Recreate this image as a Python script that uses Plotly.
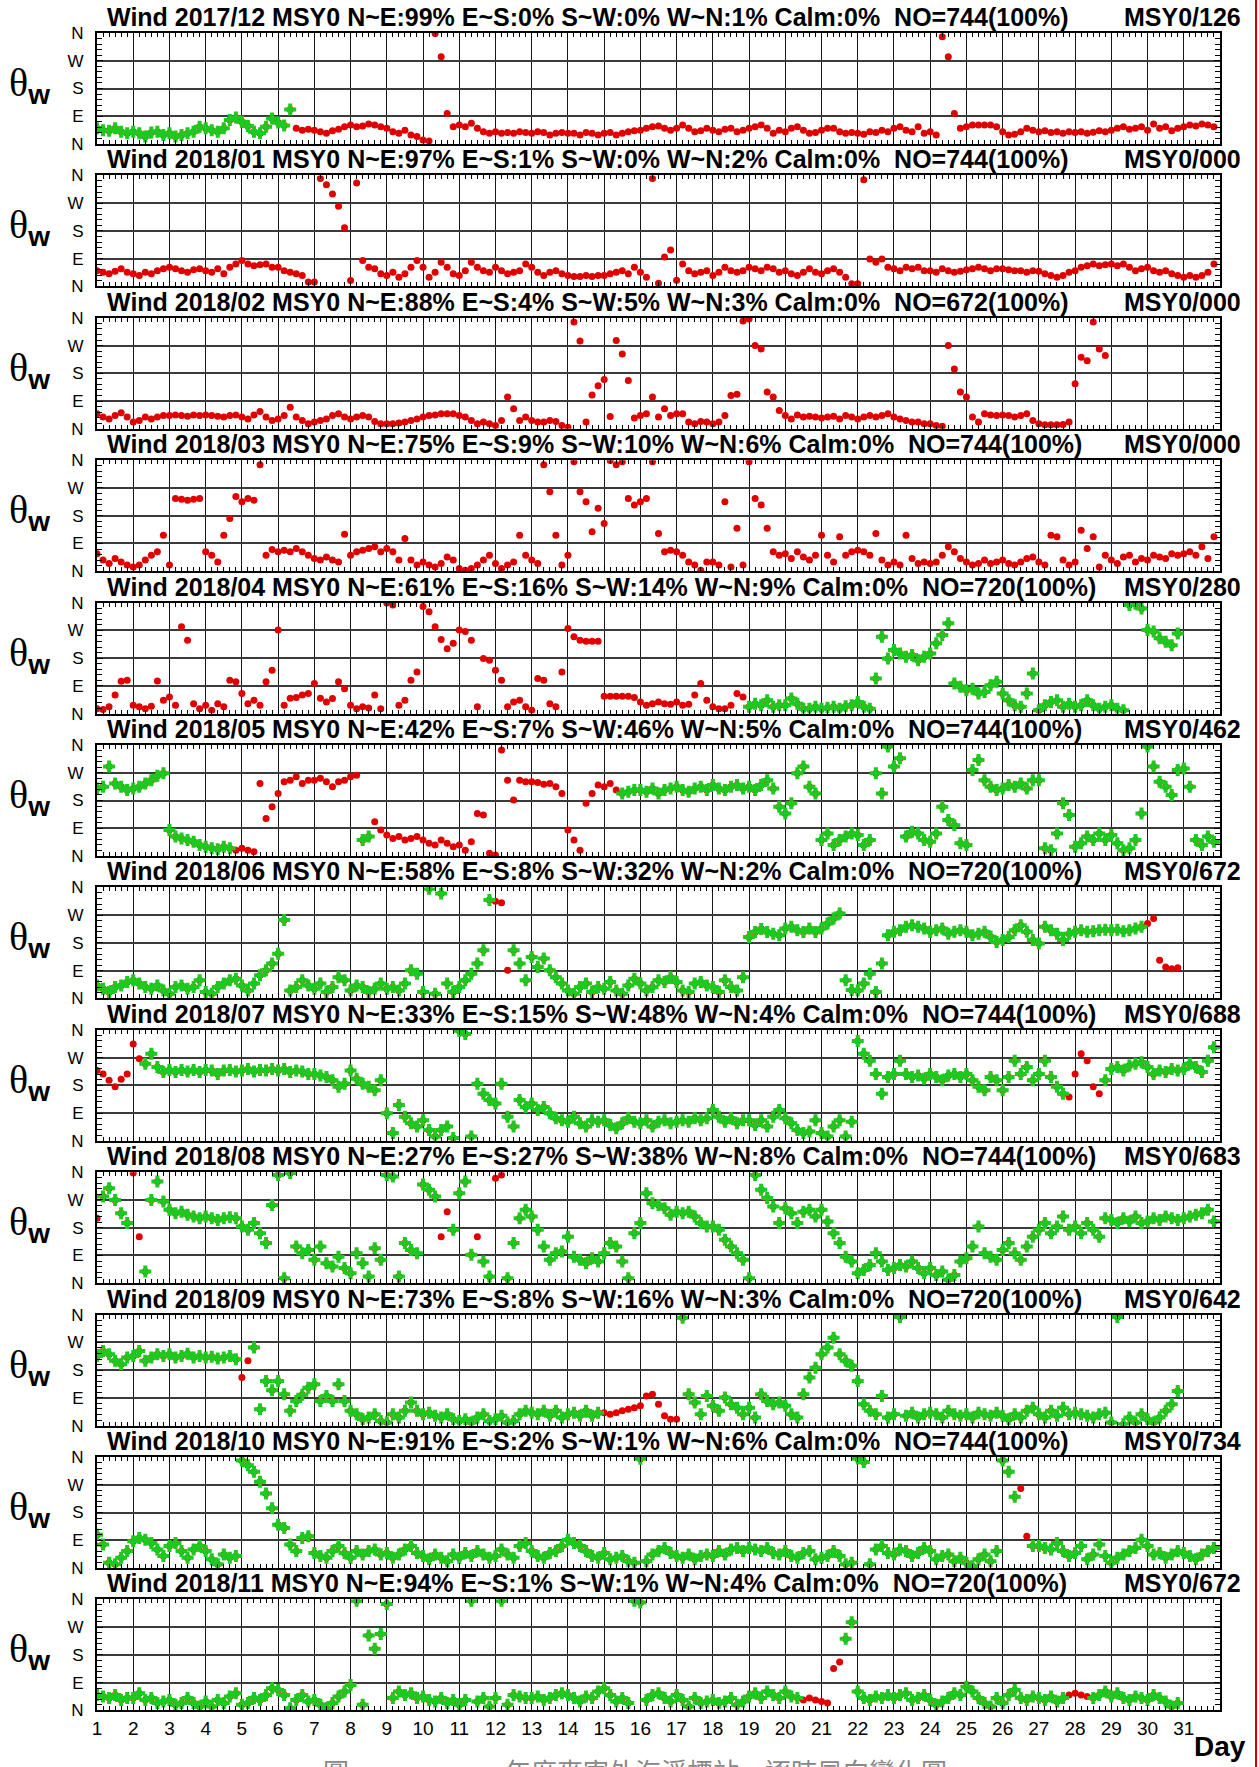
import plotly.graph_objects as go

# ---------------- data ----------------
months = ["2017/12", "2018/01", "2018/02", "2018/03", "2018/04", "2018/05",
          "2018/06", "2018/07", "2018/08", "2018/09", "2018/10", "2018/11"]
ne_pct = [99, 97, 88, 75, 61, 42, 58, 33, 27, 73, 91, 94]
es_pct = [0, 1, 4, 9, 16, 7, 8, 15, 27, 8, 2, 1]
sw_pct = [0, 0, 5, 10, 14, 46, 32, 48, 38, 16, 1, 1]
wn_pct = [1, 2, 3, 6, 9, 5, 2, 4, 8, 3, 6, 4]
calm_pct = [0, 0, 0, 0, 0, 0, 0, 0, 0, 0, 0, 0]
obs_no = [744, 744, 672, 744, 720, 744, 720, 744, 744, 720, 744, 720]
msy_no = ["126", "000", "000", "000", "280", "462", "672", "688", "683", "642", "734", "672"]

day_ticks = list(range(1, 32))
dir_ticks = [0, 90, 180, 270, 360]
dir_labels = ["N", "E", "S", "W", "N"]

# wind direction (deg), one value every 4 hours from day 1 00h
dir_2017_12 = [51,45,43,51,40,35, 40,35,24,37,40,29, 35,24,29,35,40,56, 51,45,40,51,78,86,
               72,58,40,35,56,83, 70,60,112,51,45,48, 45,40,35,43,48,56, 62,56,58,65,62,56,
               51,40,35,45,29,24, 13,10,358,283,99,56, 62,56,67,51,40,35, 40,35,37,35,40,37,
               35,40,37,29,35,37, 35,35,29,37,35,29, 35,37,29,35,40,43, 45,51,56,58,51,45,
               51,62,51,40,43,51, 45,40,48,51,40,45, 51,56,62,51,35,45, 40,51,56,45,35,37,
               45,51,51,40,35,37, 35,32,40,37,45,40, 51,56,45,40,56,35, 40,29,348,283,99,51,
               56,62,62,62,62,56, 40,29,32,40,51,45, 40,43,37,40,35,40, 37,40,35,38,43,40,
               45,51,56,48,51,56, 45,65,51,56,43,51, 56,62,58,65,62,56]
dir_2018_01 = [51,46,41,49,57,46, 41,35,46,41,51,57, 62,57,51,46,54,57, 51,46,57,41,62,73,
               84,73,67,70,73,62, 62,51,46,41,35,14, 14,350,330,300,260,190, 19,335,84,62,57,41,
               35,46,30,41,62,84, 62,30,46,78,62,41, 35,51,78,62,51,46, 62,51,41,46,51,73,
               62,46,35,46,51,41, 35,32,32,35,32,35, 35,41,46,51,41,62, 46,30,350,10,95,118,
               20,73,51,41,46,51, 35,46,62,51,46,51, 62,57,51,62,57,46, 51,41,35,46,57,46,
               41,51,57,46,30,9, 9,346,89,78,89,62, 57,51,62,57,62,51, 51,46,57,51,46,49,
               54,57,62,57,51,57, 57,54,51,51,46,51, 49,41,35,30,35,46, 51,62,67,73,67,70,
               73,67,73,62,51,57, 62,51,46,51,41,35, 30,35,30,35,46,73]
dir_2018_02 = [49,38,32,43,52,38, 22,27,38,32,38,43, 43,45,43,41,45,43, 45,43,41,38,43,45,
               38,32,45,56,38,27, 32,43,70,38,27,16, 22,27,32,43,49,38, 32,38,43,38,24,16,
               16,16,19,22,27,32, 38,43,45,49,49,49, 43,38,27,16,22,16, 11,27,103,65,27,38,
               27,22,22,27,24,11, 5,346,285,22,110,140, 160,40,286,243,157,35, 43,49,103,38,65,43,
               49,49,22,16,24,22, 16,22,43,108,112,350, 356,270,259,119,103,59, 43,32,45,38,41,38,
               35,38,41,32,43,38, 32,38,43,38,43,49, 38,32,27,22,22,16, 16,11,8,270,194,119,
               103,38,22,49,45,43, 45,43,38,43,49,27, 16,13,13,13,14,22, 146,232,221,346,259,238]
dir_2018_03 = [57,36,25,41,30,20, 14,20,36,52,63,117, 20,236,233,230,233,236, 63,52,30,117,171,242,
               225,236,230,345,52,70, 63,68,63,74,63,52, 41,36,46,36,30,120, 52,63,68,74,79,63,
               74,63,36,106,36,20, 30,20,14,25,46,36, 9,3,9,20,36,52, 25,9,20,30,117,52,
               36,25,345,258,117,20, 52,355,258,225,128,204, 155,359,345,355,236,215, 225,236,355,122,63,68,
               63,52,30,20,3,30, 30,20,225,14,139,20, 355,236,215,139,63,52, 57,41,63,46,36,52,
               117,52,30,112,52,63, 68,63,52,122,36,20, 30,20,117,41,25,30, 25,30,52,79,63,41,
               30,20,25,36,25,30, 36,25,20,30,41,46, 30,20,117,112,36,20, 30,133,74,112,14,52,
               36,25,46,52,30,41, 36,52,46,41,57,52, 57,63,52,79,41,112]
dir_2018_04 = [16,13,22,60,105,108, 27,22,16,24,106,43, 54,27,282,238,32,16, 27,11,32,22,108,103,
               65,32,43,27,103,141, 271,27,50,52,60,65, 98,50,38,49,103,81, 27,16,22,18,60,16,
               359,352,27,43,108,135, 347,330,282,240,210,228, 271,266,238,22,179,173, 141,108,22,38,43,22,
               11,114,108,32,22,135, 276,249,238,235,235,235, 56,56,56,56,56,52, 38,27,32,38,32,30,
               38,27,30,60,98,43, 22,16,16,27,65,54, 22,32,27,43,22,27, 27,49,32,16,16,22,
               16,19,22,16,24,27, 38,22,16,114,249,179, 206,195,184,190,173,184, 195,228,255,293,98,87,
               76,81,65,70,92,103, 65,43,27,22,65,130, 11,27,38,43,22,32, 22,27,43,27,16,22,
               27,16,11,352,356,341, 271,266,244,233,222,260]
dir_2018_05 = [219,225,290,235,225,214, 219,225,235,246,260,268, 84,63,57,52,46,36, 30,25,22,30,25,19,
               25,19,14,235,122,160, 203,241,246,257,235,246, 246,252,241,225,241,246, 257,262,52,63,111,84,
               68,57,63,52,57,63, 52,41,36,52,41,30, 36,19,46,138,133,9, 3,344,246,182,246,241,
               241,238,233,235,225,203, 84,52,19,171,203,230, 225,235,214,203,208,214, 214,208,219,203,214,219,
               225,214,208,219,225,214, 230,219,214,225,230,219, 225,214,230,246,219,160, 138,171,268,290,225,203,
               52,73,36,52,63,73, 68,36,52,268,203,355, 290,317,63,79,73,52, 46,73,160,117,100,41,
               36,279,311,246,225,214, 219,230,225,235,219,246, 246,25,19,73,171,133, 30,41,63,52,73,52,
               68,41,19,25,52,138, 355,290,241,225,198,279, 284,225,52,36,63,46]
dir_2018_06 = [42,31,21,37,42,53, 59,48,37,31,42,26, 15,37,42,31,37,59, 21,15,37,48,59,64,
               42,26,48,75,91,113, 145,254,26,37,59,42, 31,48,21,37,69,59, 26,42,37,21,31,48,
               31,37,26,48,91,80, 21,356,15,340,48,21, 37,59,80,113,156,319, 315,310,91,156,113,59,
               134,102,129,91,69,48, 26,15,37,48,21,37, 31,53,26,15,42,64, 48,26,37,59,53,69,
               53,26,21,48,53,42, 37,21,59,37,26,69, 199,215,225,215,210,205, 227,232,221,215,227,215,
               227,243,259,275,59,27, 26,48,80,21,113,205, 216,221,232,237,232,227, 216,221,227,210,216,221,
               216,205,210,216,200,183, 189,199,221,237,216,189, 178,232,221,210,189,210, 216,221,216,218,221,223,
               221,223,218,221,227,232, 243,259,124,102,96,99]
dir_2018_07 = [228,217,196,175,200,217, 314,266,250,282,239,223, 230,223,230,225,230,223, 230,228,217,228,230,225,
               228,233,225,230,228,233, 228,233,223,228,225,217, 217,212,207,196,175,185, 228,201,185,175,164,196,
               89,25,116,78,57,46, 67,35,14,35,46,9, 357,346,14,185,153,132, 121,185,78,46,132,110,
               121,100,110,89,73,67, 62,78,57,46,67,62, 67,51,41,57,73,62, 57,67,46,62,67,57,
               62,67,62,73,67,73, 100,78,62,73,57,67, 67,51,67,46,78,100, 73,57,35,25,30,67,
               25,14,46,67,14,62, 324,282,260,217,153,207, 217,260,217,207,212,201, 217,207,196,212,217,207,
               217,196,175,164,207,196, 164,207,260,217,239,196, 217,260,207,175,153,142, 217,282,260,175,153,196,
               233,239,228,244,250,255, 239,217,228,223,233,228, 233,250,239,223,260,303]
dir_2018_08 = [211,281,308,270,227,195, 357,151,38,270,330,265, 238,227,232,222,216,211, 216,211,205,211,214,211,
               184,173,195,162,130,254, 351,16,357,119,97,108, 76,119,65,54,86,49, 32,97,65,22,113,76,
               351,346,22,130,108,97, 320,303,281,151,232,173, 292,330,92,151,70,22, 340,351,16,130,211,238,
               216,173,119,76,97,103, 151,86,76,65,81,70, 97,130,119,70,16,162, 195,292,259,254,243,222,
               232,227,232,216,195,184, 184,173,141,119,97,76, 16,351,303,276,249,195, 243,227,195,232,238,216,
               238,200,162,130,86,70, 32,43,59,97,70,43, 49,59,54,70,49,32, 49,27,38,11,27,70,
               81,119,184,97,86,76, 108,130,97,76,119,151, 173,195,162,184,216,173, 184,162,195,173,151,211,
               205,195,211,200,216,195, 200,211,205,216,211,205, 211,216,222,227,238,200]
dir_2018_09 = [226,242,231,210,199,221, 226,242,210,221,231,226, 231,221,226,233,221,226, 221,223,218,221,226,215,
               156,210,253,53,145,115, 145,102,48,80,100,123, 134,80,96,80,134,80, 48,37,21,26,37,15,
               10,37,26,48,75,48, 37,42,32,26,37,21, 15,21,10,26,37,15, 21,32,10,15,37,48,
               42,37,48,32,48,26, 37,42,32,48,32,42, 42,37,42,48,53,58, 64,96,102,69,32,21,
               21,350,102,75,37,96, 64,48,91,69,58,37, 58,26,102,80,69,75, 64,37,26,102,156,188,
               231,253,285,231,210,194, 145,69,48,37,96,26, 37,352,32,42,26,37, 42,37,26,48,37,32,
               37,26,42,37,32,42, 32,21,37,26,48,58, 37,26,48,32,58,37, 42,37,32,26,37,42,
               10,352,4,26,10,37, 21,10,26,48,69,112]
dir_2018_10 = [108,76,17,12,33,55, 87,97,92,81,60,39, 71,81,55,33,60,71, 55,28,12,44,33,39,
               349,333,312,280,242,194, 140,130,76,55,97,103, 49,39,33,55,71,49, 33,55,44,55,60,44,
               49,33,44,60,71,49, 39,28,44,33,22,44, 33,49,39,55,44,33, 39,60,44,33,71,81,
               55,39,33,49,55,71, 92,81,71,55,39,33, 49,28,33,39,22,17, 354,22,44,55,65,49,
               39,33,44,28,39,44, 39,55,44,60,65,55, 65,60,55,65,49,44, 55,39,33,49,55,28,
               33,39,55,39,12,17, 355,344,12,60,71,49, 44,60,55,39,49,65, 55,28,39,44,22,33,
               17,6,28,44,22,55, 349,312,231,258,103,71, 71,65,60,81,55,39, 49,71,28,44,76,39,
               17,33,44,55,65,92, 71,44,49,33,44,55, 49,39,28,44,55,65]
dir_2018_11 = [50,45,40,50,34,40, 40,56,34,40,24,29, 34,18,24,40,24,13, 29,13,34,24,45,56,
               18,24,40,34,50,72, 66,50,7,34,50,29, 34,18,7,24,45,61, 82,356,18,243,200,248,
               345,40,61,50,56,40, 45,34,29,40,24,34, 18,34,356,29,40,13, 40,356,18,50,45,40,
               40,45,34,40,50,56, 50,40,29,45,40,61, 72,50,29,40,24,356, 350,34,50,56,40,29,
               50,34,13,40,24,29, 34,24,29,40,18,29, 45,56,40,61,50,40, 61,45,40,34,40,34,
               29,24,136,157,232,286, 61,40,34,45,40,50, 40,50,56,34,40,50, 34,18,29,40,56,50,
               77,61,40,24,13,40, 24,50,66,40,34,45, 40,34,45,29,40,50, 56,50,45,40,50,61,
               45,56,40,34,45,40, 34,50,40,29,13,24]

# periods (in days) covered by the MSY0 subset (green)
green_2017_12 = [(1.0, 6.4)]
green_2018_01 = []
green_2018_02 = []
green_2018_03 = []
green_2018_04 = [(18.85, 31.0)]
green_2018_05 = [(1.0, 4.7), (8.3, 8.6), (15.45, 32.0)]
green_2018_06 = [(1.0, 12.0), (12.4, 29.85)]
green_2018_07 = [(2.2, 27.8), (28.7, 32.0)]
green_2018_08 = [(1.15, 2.0), (2.2, 10.45), (10.7, 11.4), (11.6, 12.0), (12.3, 32.0)]
green_2018_09 = [(1.0, 5.0), (5.2, 14.85), (17.1, 31.0)]
green_2018_10 = [(1.0, 26.4), (26.7, 32.0)]
green_2018_11 = [(1.0, 20.45), (21.55, 27.7), (28.4, 31.0)]

dir_series = [dir_2017_12, dir_2018_01, dir_2018_02, dir_2018_03, dir_2018_04, dir_2018_05,
              dir_2018_06, dir_2018_07, dir_2018_08, dir_2018_09, dir_2018_10, dir_2018_11]
green_series = [green_2017_12, green_2018_01, green_2018_02, green_2018_03, green_2018_04, green_2018_05,
                green_2018_06, green_2018_07, green_2018_08, green_2018_09, green_2018_10, green_2018_11]

# ---------------- layout constants ----------------
W, H = 1259, 1767
L_PX, R_PX, TOP_PX, BOT_PX = 97, 1220, 33, 1711
PW = R_PX - L_PX
PH = BOT_PX - TOP_PX
STEP = 142.4
PANEL_H = 111
RED = "#e00000"
GREEN = "#1ec81e"
SANS = "Liberation Sans, Arial, sans-serif"


def px_x(px):
    return (px - L_PX) / PW


def px_y(py):
    return (BOT_PX - py) / PH


fig = go.Figure()
annotations = []
layout_axes = {}

for k in range(12):
    vals = dir_series[k]
    days = [1 + i / 6 for i in range(len(vals))]
    sfx = "" if k == 0 else str(k + 1)
    fig.add_trace(go.Scatter(
        x=days, y=vals, mode="markers", xaxis="x" + sfx, yaxis="y" + sfx,
        marker=dict(symbol="circle", size=7, color=RED, line=dict(width=0)),
        showlegend=False, hoverinfo="skip"))
    gx, gy = [], []
    for d, v in zip(days, vals):
        if any(a <= d < b for a, b in green_series[k]):
            gx.append(d)
            gy.append(v)
    fig.add_trace(go.Scatter(
        x=gx, y=gy, mode="markers", xaxis="x" + sfx, yaxis="y" + sfx,
        marker=dict(symbol="cross", size=10, color=GREEN, line=dict(width=0)),
        showlegend=False, hoverinfo="skip"))

    T = TOP_PX + STEP * k
    dom = [max(0.0, px_y(T + PANEL_H)), min(1.0, px_y(T))]
    last = (k == 11)
    layout_axes["xaxis" + sfx] = dict(
        domain=[0, 1], anchor="y" + sfx, range=[1, 32],
        tickmode="array", tickvals=day_ticks, ticktext=[str(d) for d in day_ticks],
        showticklabels=last, tickfont=dict(family=SANS, size=19, color="black"),
        ticks="inside", ticklen=5, tickcolor="black", tickwidth=1,
        showgrid=True, gridcolor="#1a1a1a", gridwidth=1,
        showline=True, linecolor="black", linewidth=2, mirror="allticks",
        zeroline=False, fixedrange=True,
        minor=dict(tick0=1, dtick=1 / 6, ticks="inside", ticklen=4, tickcolor="black",
                   tickwidth=1, showgrid=False),
    )
    layout_axes["yaxis" + sfx] = dict(
        domain=dom, anchor="x" + sfx, range=[0, 360],
        tickmode="array", tickvals=dir_ticks, ticktext=dir_labels,
        tickfont=dict(family=SANS, size=17, color="black"),
        ticks="inside", ticklen=6, tickcolor="black", tickwidth=1,
        ticklabelstandoff=8,
        showgrid=True, gridcolor="#3a3a3a", gridwidth=1.6,
        showline=True, linecolor="black", linewidth=2, mirror="allticks",
        zeroline=False, fixedrange=True,
        minor=dict(tick0=0, dtick=18, ticks="inside", ticklen=5, tickcolor="black",
                   tickwidth=1, showgrid=False),
    )

    title_left = (f"Wind {months[k]} MSY0 N~E:{ne_pct[k]}% E~S:{es_pct[k]}% "
                  f"S~W:{sw_pct[k]}% W~N:{wn_pct[k]}% Calm:{calm_pct[k]}%\u00a0\u00a0"
                  f"NO={obs_no[k]}(100%)")
    annotations.append(dict(
        text="<b>" + title_left + "</b>", xref="paper", yref="paper",
        x=px_x(105), y=px_y(T), xanchor="left", yanchor="bottom",
        showarrow=False, font=dict(family=SANS, size=25, color="black")))
    annotations.append(dict(
        text="<b>MSY0/" + msy_no[k] + "</b>", xref="paper", yref="paper",
        x=px_x(1243), y=px_y(T), xanchor="right", yanchor="bottom",
        showarrow=False, font=dict(family=SANS, size=25, color="black")))
    annotations.append(dict(
        text='θ<sub><span style="font-family:Liberation Sans"><b>w</b></span></sub>',
        xref="paper", yref="paper", x=px_x(29), y=px_y(T + 52),
        xanchor="center", yanchor="middle", showarrow=False,
        font=dict(family="Liberation Serif, Times New Roman, serif", size=40, color="black")))

annotations.append(dict(
    text="<b>Day</b>", xref="paper", yref="paper", x=px_x(1248), y=px_y(1764),
    xanchor="right", yanchor="bottom", showarrow=False,
    font=dict(family=SANS, size=28, color="black")))
annotations.append(dict(
    text="圖　　　　　　年度麥寮外海浮標站　逐時風向變化圖", xref="paper", yref="paper",
    x=px_x(321), y=px_y(1750), xanchor="left", yanchor="top", showarrow=False,
    font=dict(family="Noto Sans CJK TC", size=26, color="#888888")))

fig.update_layout(
    width=W, height=H,
    margin=dict(l=L_PX, r=W - R_PX, t=TOP_PX, b=H - BOT_PX, pad=0),
    paper_bgcolor="white", plot_bgcolor="white",
    showlegend=False, annotations=annotations,
    shapes=[dict(type="line", xref="paper", yref="paper",
                 x0=px_x(1256), x1=px_x(1256), y0=px_y(H + 5), y1=px_y(-5),
                 line=dict(color="#d40000", width=2))],
    **layout_axes,
)

fig.write_html("out.html", config={"displayModeBar": False},
               post_script="document.body.style.margin='0';document.body.style.overflow='hidden';")
